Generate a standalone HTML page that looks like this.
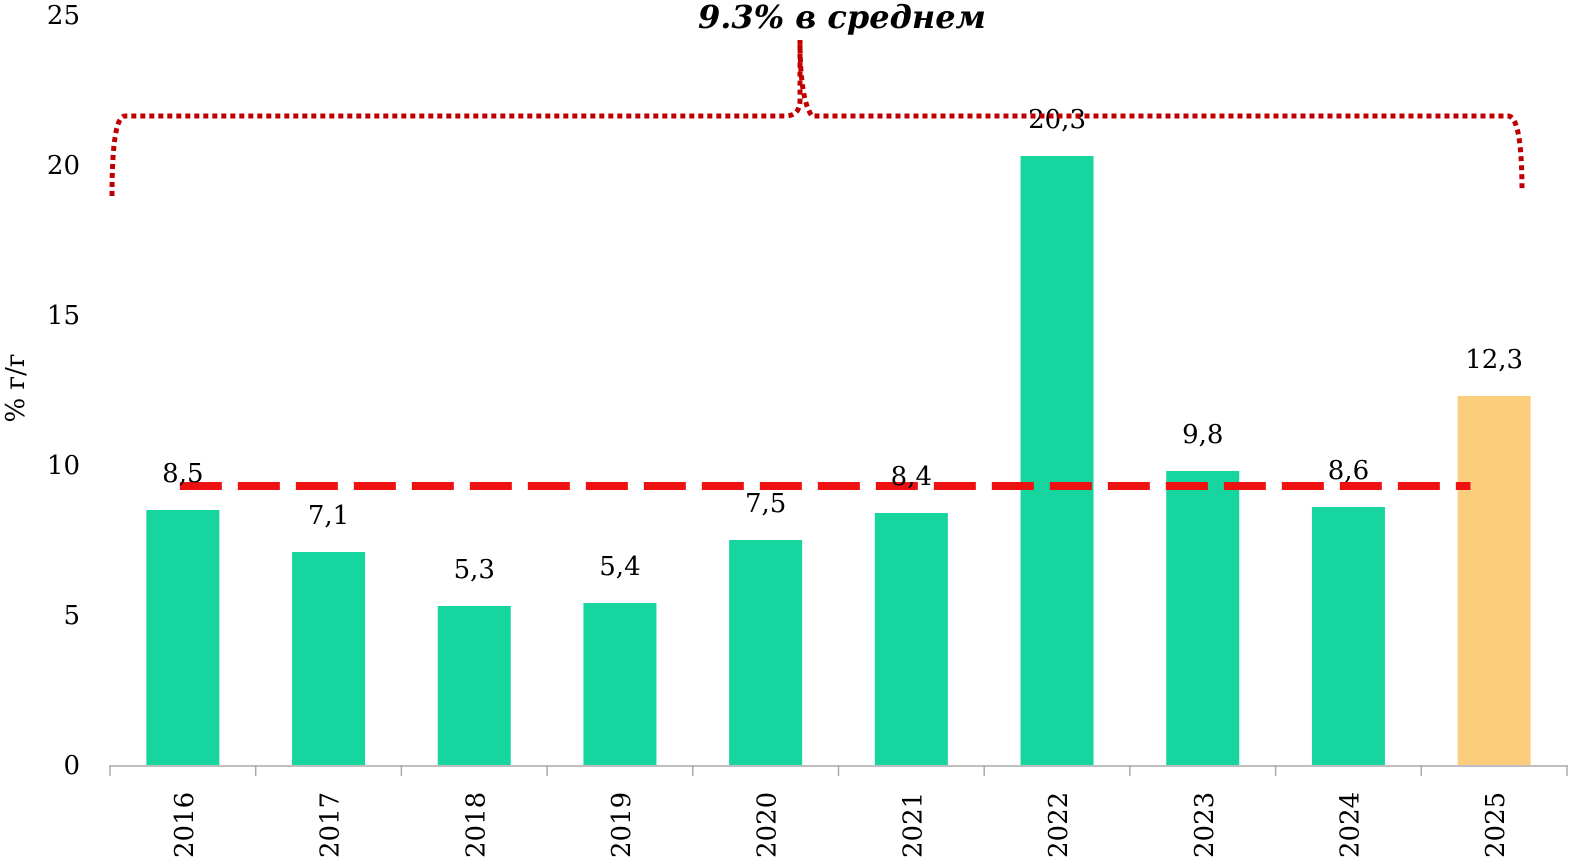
<!DOCTYPE html>
<html><head><meta charset="utf-8"><style>
html,body{margin:0;padding:0;background:#fff;}
svg{display:block;font-family:"DejaVu Serif","Liberation Serif",serif;}
</style></head><body>
<svg id="chart" width="1572" height="860" viewBox="0 0 1572 860" xmlns="http://www.w3.org/2000/svg"></svg>
<script>
const categories=["2016","2017","2018","2019","2020","2021","2022","2023","2024","2025"];
const values=[8.5,7.1,5.3,5.4,7.5,8.4,20.3,9.8,8.6,12.3];
const valueLabels=["8,5","7,1","5,3","5,4","7,5","8,4","20,3","9,8","8,6","12,3"];
const yTicks=[0,5,10,15,20,25];
const average=[9.3];
const NS="http://www.w3.org/2000/svg";
const svg=document.getElementById('chart');
const x0=110,x1=1567,yZero=765,yTop=15,yMax=25;
const bw=(x1-x0)/categories.length;
function y(v){return yZero-(yZero-yTop)*v/yMax;}
function xc(i){return x0+bw*(i+0.5);}
function mk(t,a,txt){const e=document.createElementNS(NS,t);for(const k in a)e.setAttribute(k,a[k]);if(txt!==undefined)e.textContent=txt;svg.appendChild(e);return e;}
yTicks.forEach(t=>{const e=mk('text',{x:80,y:y(t)+9,'text-anchor':'end','font-size':26,fill:'#000'},String(t));

});
const yt=mk('text',{x:0,y:0,transform:'translate(24,388) rotate(-90)','text-anchor':'middle','font-size':26,fill:'#000'},'% г/г');


values.forEach((v,i)=>{const r=mk('rect',{x:xc(i)-36.5,y:y(v),width:73,height:yZero-y(v),fill:i===categories.length-1?'#fccd7d':'#17d59f'});

});
const ax=mk('line',{x1:x0,y1:yZero+1,x2:x1,y2:yZero+1,stroke:'#aaa','stroke-width':1.5});


for(let i=0;i<=categories.length;i++){const t=mk('line',{x1:x0+bw*i,y1:yZero,x2:x0+bw*i,y2:yZero+11,stroke:'#aaa','stroke-width':1.5});

}
categories.forEach((c,i)=>{const e=mk('text',{x:0,y:0,transform:`translate(${xc(i)+10},858) rotate(-90)`,'font-size':26,fill:'#000'},c);

});
const av=mk('line',{x1:xc(0)-3,y1:y(average[0]),x2:xc(8)+122,y2:y(average[0]),stroke:'#ee1111','stroke-width':8,'stroke-dasharray':'42 16'});


values.forEach((v,i)=>{const e=mk('text',{x:xc(i),y:y(v)-28,'text-anchor':'middle','font-size':26,fill:'#000'},valueLabels[i]);

});
const br=mk('path',{d:'M112,196 Q112,116 125,116 L785,116 Q800,116 800,100 Q800,60 800,40 Q800,100 812,116 L1508,116 Q1522,116 1522,192',fill:'none',stroke:'#c00000','stroke-width':5,'stroke-dasharray':'5 4'});


const tt=mk('text',{x:842,y:28,'text-anchor':'middle','font-size':32,'font-weight':'bold','font-style':'italic',fill:'#000'},'9.3% в среднем');


</script>
</body></html>
